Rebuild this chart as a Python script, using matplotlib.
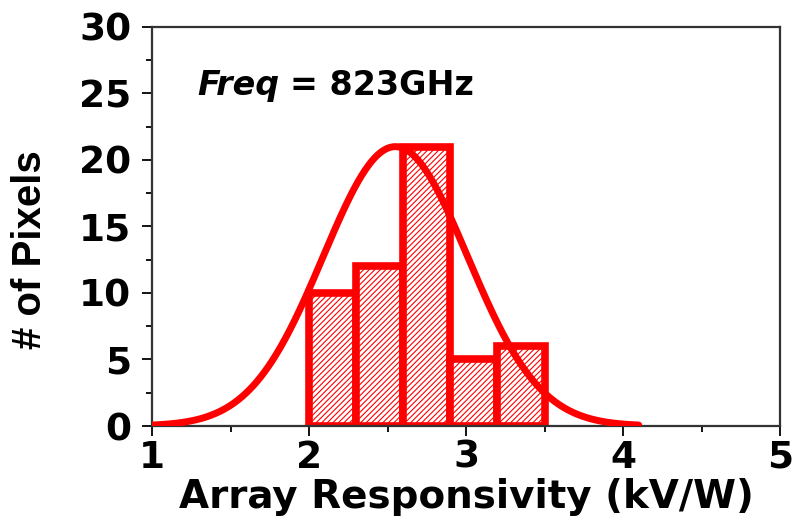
import numpy as np
import matplotlib.pyplot as plt
from matplotlib.ticker import MultipleLocator

# histogram of pixel responsivity (kV/W) at 823 GHz
bin_left = [2.0, 2.3, 2.6, 2.9, 3.2]
bin_width = 0.3
counts = [10, 12, 21, 5, 6]

# gaussian fit parameters
fit_amp = 21.0
fit_mu = 2.55
fit_sigma = 0.46
fit_range = (1.0, 4.1)

plt.rcParams['hatch.color'] = 'red'
plt.rcParams['hatch.linewidth'] = 0.8

fig = plt.figure(figsize=(7.98, 5.17), dpi=100)
ax = fig.add_axes([0.1905, 0.176, 0.787, 0.772])

ax.bar(bin_left, counts, width=bin_width, align='edge', facecolor='white',
       edgecolor='red', linewidth=5.5, hatch='//////', zorder=2)

xs = np.linspace(fit_range[0], fit_range[1], 400)
ys = fit_amp * np.exp(-(xs - fit_mu) ** 2 / (2 * fit_sigma ** 2))
ax.plot(xs, ys, color='red', linewidth=5, solid_capstyle='round', zorder=3)

ax.set_xlim(1, 5)
ax.set_ylim(0, 30)
ax.xaxis.set_major_locator(MultipleLocator(1))
ax.xaxis.set_minor_locator(MultipleLocator(0.5))
ax.yaxis.set_major_locator(MultipleLocator(5))
ax.yaxis.set_minor_locator(MultipleLocator(2.5))
ax.tick_params(which='major', direction='out', length=7, width=1.3,
               labelsize=27)
ax.tick_params(which='minor', direction='out', length=4.5, width=1.3)
ax.tick_params(axis='x', which='major', pad=3)
ax.tick_params(axis='y', which='major', pad=8)
for lab in ax.get_xticklabels() + ax.get_yticklabels():
    lab.set_fontweight('bold')
    lab.set_fontfamily('DejaVu Sans')
for s in ax.spines.values():
    s.set_linewidth(1.6)
    s.set_color('#333333')

# axis titles
fig.text(466 / 798, 1 - 508 / 517, 'Array Responsivity (kV/W)', fontsize=28,
         fontweight='bold', fontfamily='DejaVu Sans', ha='center', va='baseline')
fig.text(30 / 798, 1 - 250 / 517, '# of Pixels', fontsize=29, fontweight='bold',
         fontfamily='Liberation Sans', rotation=90, ha='center', va='center')

ax.text(0.0717, 0.8296, 'Freq', transform=ax.transAxes, fontsize=24,
        style='italic', fontweight='bold', fontfamily='DejaVu Sans', va='baseline')
ax.text(0.2197, 0.8296, '= 823GHz', transform=ax.transAxes, fontsize=24,
        fontweight='bold', fontfamily='DejaVu Sans', va='baseline')

fig.savefig('out.png', dpi=100)
